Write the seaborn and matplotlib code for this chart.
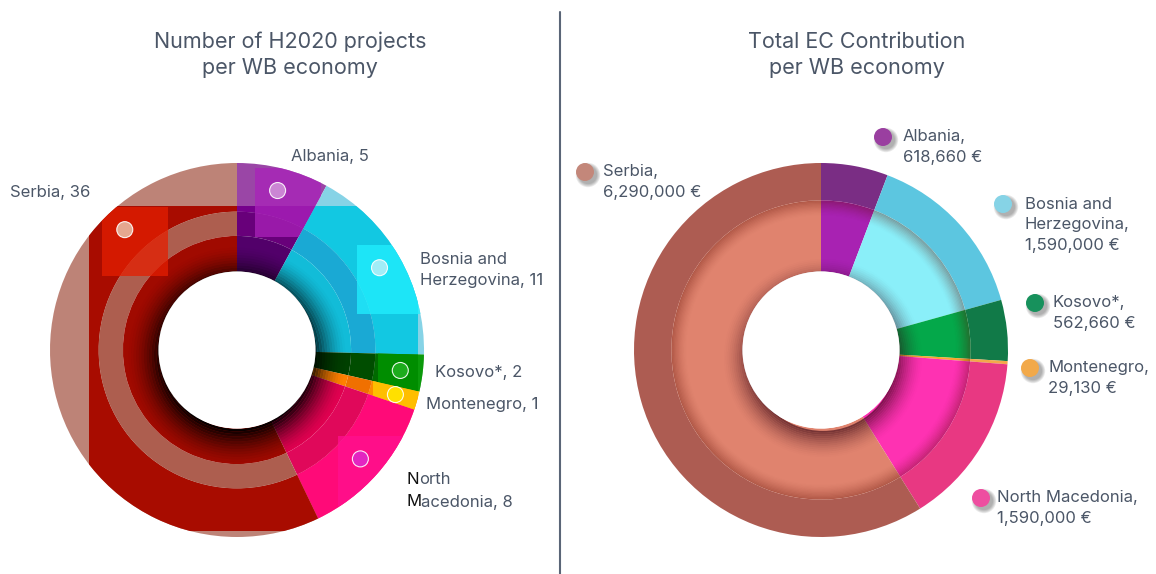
import numpy as np
import matplotlib.pyplot as plt
from matplotlib.patches import Wedge, Rectangle, Circle
import seaborn as sns

# data, clockwise from 12 o'clock
economies = ['Albania', 'Bosnia and\nHerzegovina', 'Kosovo*', 'Montenegro', 'North\nMacedonia', 'Serbia']
projects = [5, 11, 2, 1, 8, 36]
ec_names = ['Albania', 'Bosnia and\nHerzegovina', 'Kosovo*', 'Montenegro', 'North Macedonia', 'Serbia']
ec_contribution = [618660, 1590000, 562660, 29130, 1590000, 6290000]

# left chart colours (outer pale ring, main, middle ring, inner ring, square, dot)
pale_cols = ['#9a46a6', '#86d3e6', '#2f9a2f', '#ffb060', '#ff5aa0', '#bd8377']
main_cols = ['#76008c', '#12c8e2', '#006a00', '#ff8a00', '#ff0a78', '#a80c00']
mid_cols = ['#68007a', '#1aa9d4', '#004d00', '#f07000', '#e0085a', '#ad5e4f']
inner_cols = ['#52006a', '#12bcd8', '#004000', '#ff8000', '#e00050', '#a00a00']
square_cols = ['#aa22ba', '#22f0ff', '#009a00', '#ffd000', '#ff1090', '#e41e00']
dot_cols = ['#d090d8', '#b0eef8', '#20b020', '#ffe400', '#e028c8', '#e8b8a0']

# right chart colours
outer_cols_r = ['#7a2d84', '#5cc6e0', '#117a48', '#f3a84a', '#e83882', '#ad5c52']
inner_cols_r = ['#a822b2', '#8aeff9', '#04a84a', '#f7a830', '#fe32b2', '#e0836e']
legend_cols_r = ['#9a3fa0', '#86d3e6', '#17915c', '#f2a94a', '#ee4ea0', '#c3877a']

sns.set_style('white')
plt.rcParams['font.family'] = ['Inter', 'DejaVu Sans']
text_col = '#4b5667'
LABEL_FS = 12
TITLE_FS = 15.5

W, H = 1156, 574
R = 187
HOLE = 0.42


def up(y):
    return H - y


def mid_angles(vals):
    v = np.asarray(vals, dtype=float)
    cum = np.cumsum(v) - v / 2
    return 90 - 360 * cum / v.sum()


def ring(ax, vals, center, r_out, r_in, cols):
    wedges, _ = ax.pie(vals, radius=R * r_out, center=center, startangle=90, counterclock=False,
                       colors=cols, frame=True,
                       wedgeprops=dict(width=R * (r_out - r_in), edgecolor='none', linewidth=0))
    return wedges


def gradient_ring(ax, center, r0, r1, alpha0, n=14, color='black'):
    # thin rings fading from r0 to r1
    step = (r1 - r0) / n
    for k in range(n):
        r = r0 + step * k
        a = alpha0 * (1 - k / n) ** 1.6
        w = Wedge(center, R * (r + step), 0, 360, width=R * step, facecolor=color,
                  edgecolor='none', alpha=a)
        ax.add_patch(w)


fig = plt.figure(figsize=(11.56, 5.74), dpi=100)
ax = fig.add_axes([0, 0, 1, 1])

# ---------- left chart ----------
cl = (237, up(350))
outer = ring(ax, projects, cl, 1.0, 0.74, pale_cols)
# inner box where the outer ring takes the strong colour
for w, c in zip(outer, main_cols):
    box = Rectangle((cl[0] - 0.79 * R, cl[1] - 0.97 * R), 1.76 * R, 1.74 * R,
                    facecolor=c, edgecolor='none')
    ax.add_patch(box)
    box.set_clip_path(w)
ring(ax, projects, cl, 0.74, 0.61, mid_cols)
inner = ring(ax, projects, cl, 0.61, HOLE, inner_cols)
gradient_ring(ax, (cl[0], cl[1] - 6), HOLE - 0.03, 0.58, 0.95)
ax.add_patch(Circle(cl, R * HOLE, facecolor='white', edgecolor='none'))

full = ring(ax, projects, cl, 1.0, HOLE, ['none'] * len(projects))
angles = mid_angles(projects)
angles[-1] = 133  # Serbia marker sits in the upper left
for a, w, sc, dc in zip(angles, full, square_cols, dot_cols):
    dx = cl[0] + 0.88 * R * np.cos(np.radians(a))
    dy = cl[1] + 0.88 * R * np.sin(np.radians(a))
    sq = Rectangle((dx - 0.12 * R, dy - 0.25 * R), 0.35 * R, 0.37 * R,
                   facecolor=sc, edgecolor='none', alpha=0.75)
    ax.add_patch(sq)
    sq.set_clip_path(w)
    ax.add_patch(Circle((dx, dy), 8, facecolor=dc, edgecolor='white', linewidth=0.8, alpha=0.9))

left_pos = [(291, 156), (420, 270), (435, 372), (426, 405), None, (10, 193)]
for name, v, pos in zip(economies, projects, left_pos):
    if pos is None:
        continue
    ax.text(pos[0], up(pos[1]), f'{name}, {v}', ha='left', va='center', fontsize=LABEL_FS,
            color=text_col, linespacing=1.45)

# ---------- right chart ----------
cr = (821, up(350))
ring(ax, ec_contribution, cr, 1.0, 0.80, outer_cols_r)
ring(ax, ec_contribution, cr, 0.80, HOLE, inner_cols_r)
# shading under the outer ring and around the hole
step = 0.08 / 12
for k in range(12):
    r = 0.80 - step * (k + 1)
    ax.add_patch(Wedge(cr, R * (r + step), 0, 360, width=R * step, facecolor='#5a0a00',
                       edgecolor='none', alpha=0.35 * (1 - k / 12) ** 1.5))
gradient_ring(ax, (cr[0] + 2, cr[1] - 8), HOLE - 0.03, 0.53, 0.6, color='#300010')
ax.add_patch(Circle(cr, R * HOLE, facecolor='white', edgecolor='none'))

right_pos = [(883, 903, 147), (1003, 1025, 225), (1035, 1053, 313), (1030, 1048, 378),
             (981, 997, 508), (585, 603, 182)]
for name, v, col, (dx, tx, y) in zip(ec_names, ec_contribution, legend_cols_r, right_pos):
    lines = name.count('\n') + 2
    dot_y = up(y) + (lines - 1) * 11 - 1
    for s in range(5):
        ax.add_patch(Circle((dx + 3, dot_y - 3), 9 + s * 0.8, facecolor='#303030',
                            edgecolor='none', alpha=0.09))
    ax.add_patch(Circle((dx, dot_y), 9, facecolor=col, edgecolor='none'))
    ax.text(tx, up(y), f'{name},\n{v:,} €', ha='left', va='center', fontsize=LABEL_FS,
            color=text_col, linespacing=1.45)

# titles and divider
ax.text(290, up(55), 'Number of H2020 projects\nper WB economy', ha='center', va='center',
        fontsize=TITLE_FS, color=text_col, linespacing=1.4)
ax.text(857, up(55), 'Total EC Contribution\nper WB economy', ha='center', va='center',
        fontsize=TITLE_FS, color=text_col, linespacing=1.4)
ax.plot([560, 560], [up(12), up(574)], color='#5a6577', linewidth=1.5)

ax.set_xlim(0, W)
ax.set_ylim(0, H)
ax.set_aspect('equal')
ax.axis('off')

# North Macedonia with dark initials (placed after the limits are fixed)
renderer = fig.canvas.get_renderer()
nm_lines = economies[4].split('\n')
nm_lines[-1] = f'{nm_lines[-1]}, {projects[4]}'
for line, y in zip(nm_lines, [480, 502]):
    t = ax.text(406, up(y), line[0], ha='left', va='center', fontsize=LABEL_FS, color='#111111')
    bb = t.get_window_extent(renderer)
    x1 = ax.transData.inverted().transform((bb.x1, bb.y0))[0]
    ax.text(x1, up(y), line[1:], ha='left', va='center', fontsize=LABEL_FS, color=text_col)

fig.savefig('out.png', dpi=100, facecolor='white')
